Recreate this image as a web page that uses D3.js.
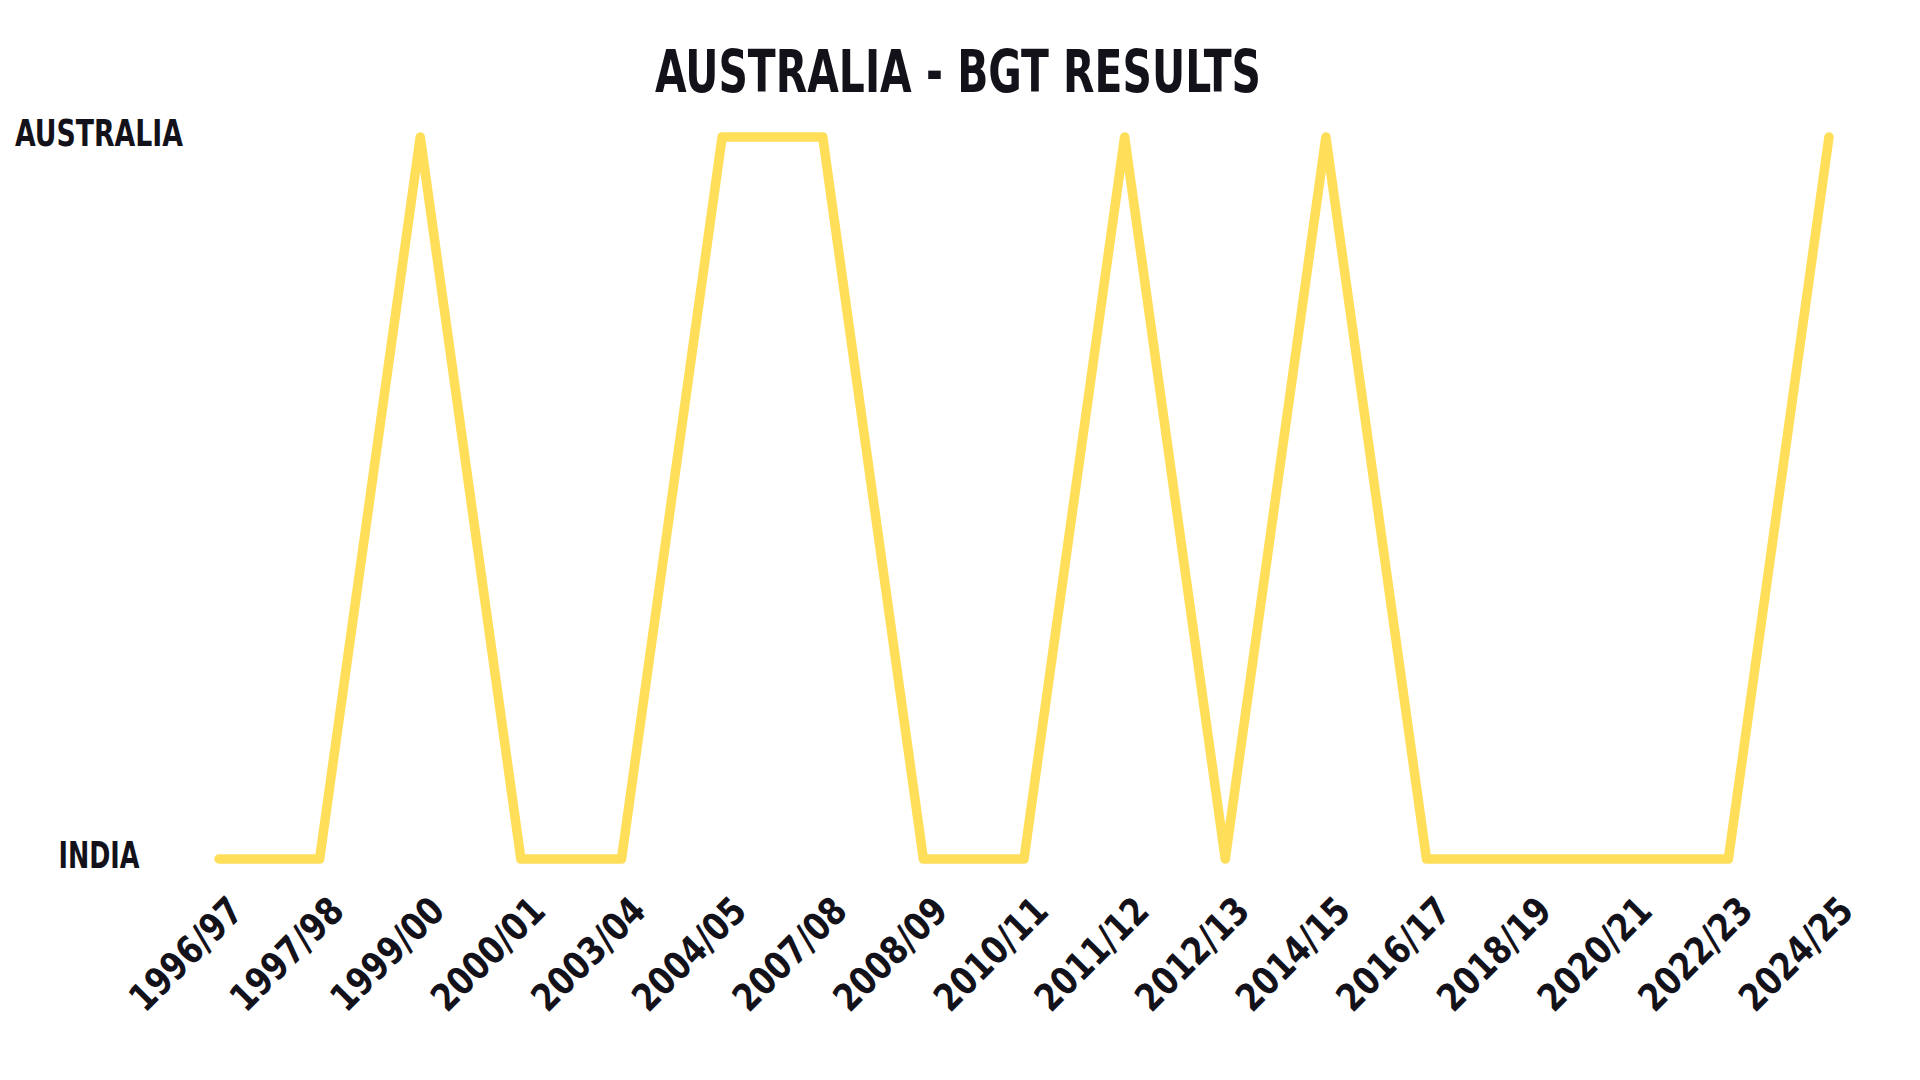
<!DOCTYPE html>
<html>
<head>
<meta charset="utf-8">
<script src="https://cdn.jsdelivr.net/npm/d3@7"></script>
<style>
  html, body { margin: 0; padding: 0; background: #ffffff; }
  svg { display: block; }
  text { font-family: "DejaVu Sans Condensed", "DejaVu Sans", sans-serif; font-stretch: condensed; font-weight: bold; fill: #13121a; }
</style>
</head>
<body>
<svg id="chart" width="1920" height="1080"></svg>
<script>
const seasons = ["1996/97","1997/98","1999/00","2000/01","2003/04","2004/05","2007/08","2008/09","2010/11","2011/12","2012/13","2014/15","2016/17","2018/19","2020/21","2022/23","2024/25"];
const winners = ["INDIA","INDIA","AUSTRALIA","INDIA","INDIA","AUSTRALIA","AUSTRALIA","INDIA","INDIA","AUSTRALIA","INDIA","AUSTRALIA","INDIA","INDIA","INDIA","INDIA","AUSTRALIA"];
const teams = ["INDIA","AUSTRALIA"];
const titleText = "AUSTRALIA - BGT RESULTS";

const svg = d3.select("#chart");
const x = d3.scalePoint().domain(seasons).range([219, 1829]);
const y = d3.scalePoint().domain(teams).range([859, 137]);

// title
svg.append("text")
  .attr("x", 958).attr("y", 92)
  .attr("text-anchor", "middle")
  .attr("font-size", 59)
  .attr("textLength", 606).attr("lengthAdjust", "spacingAndGlyphs")
  .text(titleText);

// y labels
const yWidths = {AUSTRALIA: 168, INDIA: 81};
svg.append("g").selectAll("text").data(teams).join("text")
  .attr("x", 99).attr("y", d => y(d) + 9)
  .attr("text-anchor", "middle")
  .attr("font-size", 38)
  .attr("textLength", d => yWidths[d]).attr("lengthAdjust", "spacingAndGlyphs")
  .text(d => d);

// x labels
const xAxis = d3.axisBottom(x).tickSize(0).tickPadding(0);
const gx = svg.append("g").attr("transform", "translate(0,859)").call(xAxis);
gx.select(".domain").remove();
gx.selectAll(".tick text")
  .attr("font-size", 38)
  .attr("font-family", null)
  .attr("fill", null)
  .attr("text-anchor", "end")
  .attr("dy", null)
  .attr("y", null)
  .attr("transform", "translate(26,54) rotate(-45)")
  .attr("textLength", 142).attr("lengthAdjust", "spacingAndGlyphs");
gx.attr("font-size", null).attr("font-family", null);

// line
const line = d3.line().x((d, i) => x(seasons[i])).y(d => y(d));
svg.append("path")
  .datum(winners)
  .attr("d", line)
  .attr("fill", "none")
  .attr("stroke", "#FFDE59")
  .attr("stroke-width", 9.5)
  .attr("stroke-linejoin", "round")
  .attr("stroke-linecap", "round");
</script>
</body>
</html>
